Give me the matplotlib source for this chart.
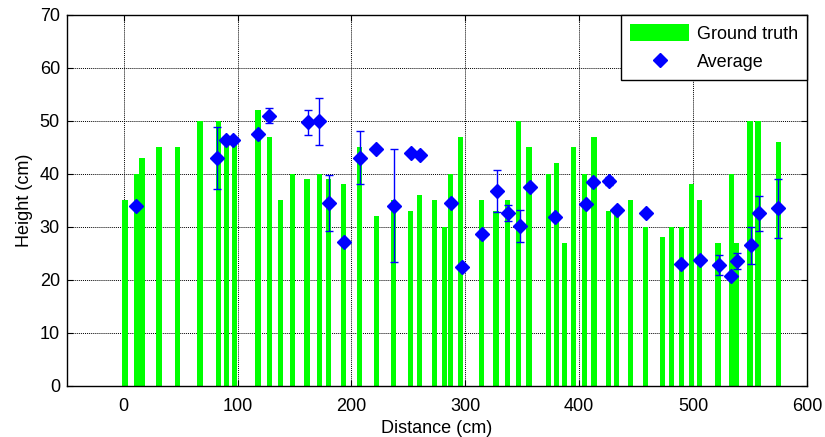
import matplotlib
matplotlib.use("Agg")
import matplotlib.pyplot as plt
from matplotlib.patches import Patch
from matplotlib.lines import Line2D

plt.rcParams["font.family"] = ["Liberation Sans", "DejaVu Sans"]

# ground truth bars: distance (cm) and height (cm)
truth_x = [1, 11, 16, 31, 47.5, 67, 83, 90, 97, 118, 128, 138, 148, 161, 172, 180,
           193, 207, 222, 237, 252, 260, 273, 282, 287, 296, 314, 327, 337, 347,
           356, 373, 380, 387, 395, 405, 413, 426, 433, 445, 458, 473, 481, 490,
           499, 506, 522, 534, 538, 550, 557, 575]
truth_h = [35, 40, 43, 45, 45, 50, 50, 46, 46, 52, 47, 35, 40, 39, 40, 39,
           38, 45, 32, 35, 33, 36, 35, 30, 40, 47, 35, 33, 35, 50,
           45, 40, 42, 27, 45, 40, 47, 33, 33, 35, 30, 28, 30, 30,
           38, 35, 27, 40, 27, 50, 50, 46]

# averaged measurements with spread
avg_x = [11, 82, 89.4, 96.2, 117.5, 127.5, 161.5, 171.8, 180.6, 193.8, 207.9, 222,
         237.2, 252.1, 260.6, 287.6, 296.7, 314.3, 327.5, 337.4, 347.7, 357,
         378.8, 405.7, 412.2, 426.4, 433, 458.5, 489.3, 506.3, 522.4, 533.6,
         538.5, 550.8, 557.6, 574.3]
avg_y = [34.0, 43.0, 46.3, 46.3, 47.5, 51.0, 49.7, 49.9, 34.5, 27.1, 43.0, 44.7,
         34.0, 44.0, 43.6, 34.5, 22.5, 28.7, 36.8, 32.6, 30.2, 37.5,
         31.8, 34.3, 38.4, 38.7, 33.2, 32.7, 23.0, 23.8, 22.8, 20.8,
         23.6, 26.5, 32.6, 33.5]
avg_err = [0, 5.9, 0, 0, 0, 1.4, 2.3, 4.4, 5.2, 0, 5.0, 0,
           10.7, 0, 0, 0, 0, 0, 4.0, 1.5, 3.0, 0,
           0, 0, 0, 0.8, 0, 0, 0, 0, 1.8, 0,
           1.5, 3.5, 3.3, 5.6]

fig = plt.figure(figsize=(8.25, 4.37), dpi=100)
ax = fig.add_axes([0.081, 0.117, 0.897, 0.849])

ax.bar(truth_x, truth_h, width=4.6, color="#00ff00", linewidth=0, zorder=2)
ax.errorbar(avg_x, avg_y, yerr=avg_err, fmt="D", color="blue", ecolor="blue",
            markersize=7, elinewidth=1, capsize=3, capthick=1, zorder=3)

ax.set_xlim(-50, 600)
ax.set_ylim(0, 70)
ax.set_xticks(range(0, 601, 100))
ax.set_yticks(range(0, 71, 10))
ax.grid(True, color="black", linestyle=(0, (1, 1)), linewidth=0.7, zorder=0)
ax.set_axisbelow(True)
ax.tick_params(direction="in", labelsize=13, length=4, top=True, right=True, pad=5)
ax.tick_params(axis="x", pad=9)
for s in ax.spines.values():
    s.set_linewidth(1)
ax.set_xlabel("Distance (cm)", fontsize=13, labelpad=3)
ax.set_ylabel("Height (cm)", fontsize=13, labelpad=5)

handles = [Patch(facecolor="#00ff00", edgecolor="none"),
           Line2D([], [], marker="D", color="blue", linestyle="none", markersize=7)]
leg = ax.legend(handles, ["Ground truth", "Average"], loc="upper right",
                fontsize=13, fancybox=False, framealpha=1, edgecolor="black",
                borderaxespad=0, handlelength=3.3, handleheight=1.1,
                handletextpad=0.4, borderpad=0.5, labelspacing=0.55)
leg.get_frame().set_linewidth(1)

fig.savefig("out.png", dpi=100)
